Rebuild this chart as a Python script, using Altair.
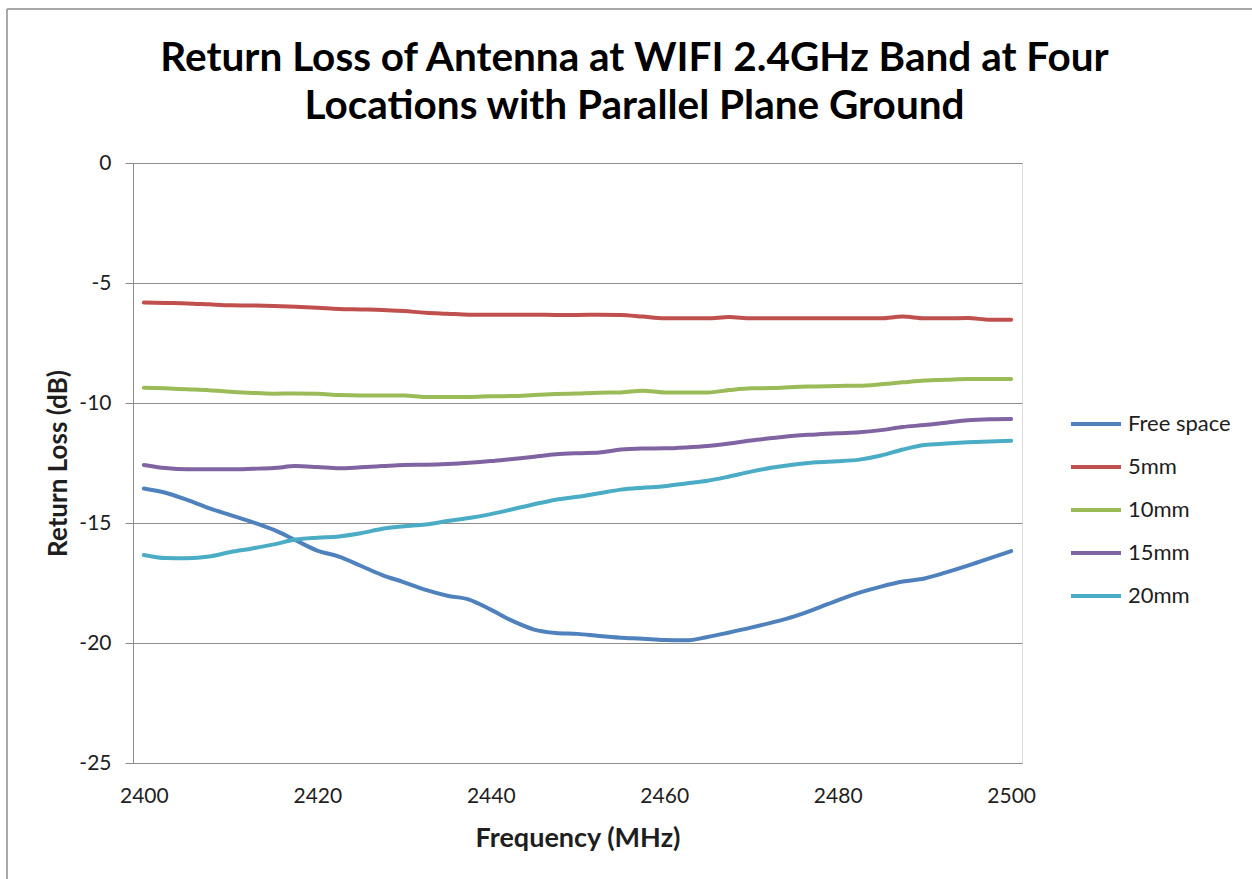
import altair as alt
import pandas as pd

freq_start = 2400.0
freq_step = 2.5
n_points = 41
frequencies = [freq_start + freq_step * i for i in range(n_points)]

series_names = ["Free space", "5mm", "10mm", "15mm", "20mm"]
series_colors = ["#4F81BD", "#C0504D", "#9BBB59", "#8064A2", "#4BACC6"]

free_space = [-13.56, -13.74, -14.04, -14.38, -14.67, -14.96, -15.29, -15.72, -16.15, -16.40,
              -16.78, -17.17, -17.47, -17.79, -18.03, -18.19, -18.61, -19.08, -19.44, -19.58,
              -19.62, -19.71, -19.78, -19.82, -19.88, -19.89, -19.75, -19.56, -19.36, -19.14,
              -18.89, -18.57, -18.22, -17.90, -17.65, -17.44, -17.31, -17.06, -16.78, -16.47,
              -16.17]
mm5 = [-5.81, -5.83, -5.85, -5.89, -5.93, -5.94, -5.96, -5.99, -6.03, -6.08,
       -6.10, -6.12, -6.17, -6.24, -6.28, -6.32, -6.32, -6.32, -6.32, -6.33,
       -6.33, -6.32, -6.33, -6.40, -6.47, -6.47, -6.47, -6.42, -6.47, -6.47,
       -6.47, -6.47, -6.47, -6.47, -6.47, -6.40, -6.47, -6.47, -6.46, -6.53,
       -6.53]
mm10 = [-9.36, -9.39, -9.43, -9.47, -9.53, -9.58, -9.61, -9.60, -9.61, -9.67,
        -9.69, -9.69, -9.69, -9.75, -9.75, -9.75, -9.72, -9.71, -9.67, -9.63,
        -9.60, -9.57, -9.56, -9.49, -9.56, -9.56, -9.56, -9.46, -9.39, -9.38,
        -9.33, -9.31, -9.29, -9.28, -9.22, -9.14, -9.06, -9.03, -9.00, -9.00,
        -9.00]
mm15 = [-12.58, -12.71, -12.76, -12.76, -12.76, -12.74, -12.71, -12.63, -12.67, -12.72,
        -12.68, -12.63, -12.58, -12.57, -12.54, -12.49, -12.42, -12.33, -12.24, -12.14,
        -12.09, -12.06, -11.94, -11.90, -11.89, -11.85, -11.79, -11.69, -11.56, -11.46,
        -11.36, -11.31, -11.26, -11.22, -11.13, -11.00, -10.92, -10.82, -10.72, -10.68,
        -10.67]
mm20 = [-16.33, -16.46, -16.47, -16.40, -16.21, -16.06, -15.89, -15.69, -15.61, -15.56,
        -15.43, -15.24, -15.14, -15.06, -14.92, -14.79, -14.63, -14.43, -14.22, -14.03,
        -13.91, -13.76, -13.61, -13.53, -13.47, -13.35, -13.24, -13.06, -12.86, -12.69,
        -12.56, -12.47, -12.43, -12.36, -12.19, -11.94, -11.75, -11.69, -11.64, -11.60,
        -11.57]

x_ticks = [2400, 2420, 2440, 2460, 2480, 2500]
y_ticks = [0, -5, -10, -15, -20, -25]

title_lines = ["Return Loss of Antenna at WIFI 2.4GHz Band at Four",
               "Locations with Parallel Plane Ground"]

rows = []
for name, vals in zip(series_names, [free_space, mm5, mm10, mm15, mm20]):
    for f, v in zip(frequencies, vals):
        rows.append({"Frequency": f, "ReturnLoss": v, "Series": name})
df = pd.DataFrame(rows)

FONT = "Lato"
TEXT = "#1e1e1e"
GRID = "#8c8c8c"

lines = alt.Chart(df).mark_line(strokeWidth=4, interpolate="monotone", strokeCap="round").encode(
    x=alt.X("Frequency:Q",
            scale=alt.Scale(domain=[2398.75, 2501.25], nice=False, zero=False),
            axis=alt.Axis(values=x_ticks, title="Frequency (MHz)",
                          labelExpr="'' + datum.value",
                          grid=False, ticks=False, domain=True, domainColor=GRID,
                          labelFontSize=21, labelPadding=22, labelColor=TEXT, labelFont=FONT,
                          titleFontSize=27, titleFont=FONT, titleFontWeight="bold",
                          titleColor=TEXT, titlePadding=19)),
    y=alt.Y("ReturnLoss:Q",
            scale=alt.Scale(domain=[-25, 0], nice=False),
            axis=alt.Axis(values=y_ticks, title="Return Loss (dB)",
                          labelExpr="'' + datum.value",
                          grid=True, gridColor=GRID, gridWidth=1,
                          ticks=True, tickSize=8, tickColor=GRID,
                          domain=True, domainColor=GRID,
                          labelFontSize=21, labelPadding=14, labelColor=TEXT, labelFont=FONT,
                          titleFontSize=26, titleFont=FONT, titleFontWeight="bold",
                          titleColor=TEXT, titlePadding=7)),
    color=alt.Color("Series:N",
                    scale=alt.Scale(domain=series_names, range=series_colors),
                    legend=alt.Legend(title=None, orient="none", legendX=936, legendY=234,
                                      symbolType="stroke", symbolSize=2500, symbolStrokeWidth=4,
                                      labelFontSize=22, labelFont=FONT, labelColor=TEXT,
                                      labelOffset=5, rowPadding=5, padding=0)),
    order=alt.Order("Frequency:Q"),
)

frame = alt.Chart(pd.DataFrame({"k": [0]})).mark_rule(color="#8c8c8c", strokeWidth=1.5).encode(
    x=alt.value(-126), x2=alt.value(1119), y=alt.value(-154)
) + alt.Chart(pd.DataFrame({"k": [0]})).mark_rule(color="#8c8c8c", strokeWidth=1.5).encode(
    x=alt.value(-126), y=alt.value(-154), y2=alt.value(716)
)

chart = alt.layer(lines, frame).properties(
    width=889, height=600,
    padding={"left": 133, "top": 163, "right": 230, "bottom": 116},
    autosize=alt.AutoSizeParams(type="none"),
    title=alt.TitleParams(text=title_lines, font=FONT, fontSize=40.5, fontWeight="bold",
                          color="#000000", anchor="middle", dx=57, offset=-119, lineHeight=48),
).configure_view(stroke=None).configure(background="white")

chart.save("out.html", embed_options={"renderer": "svg", "actions": False})
